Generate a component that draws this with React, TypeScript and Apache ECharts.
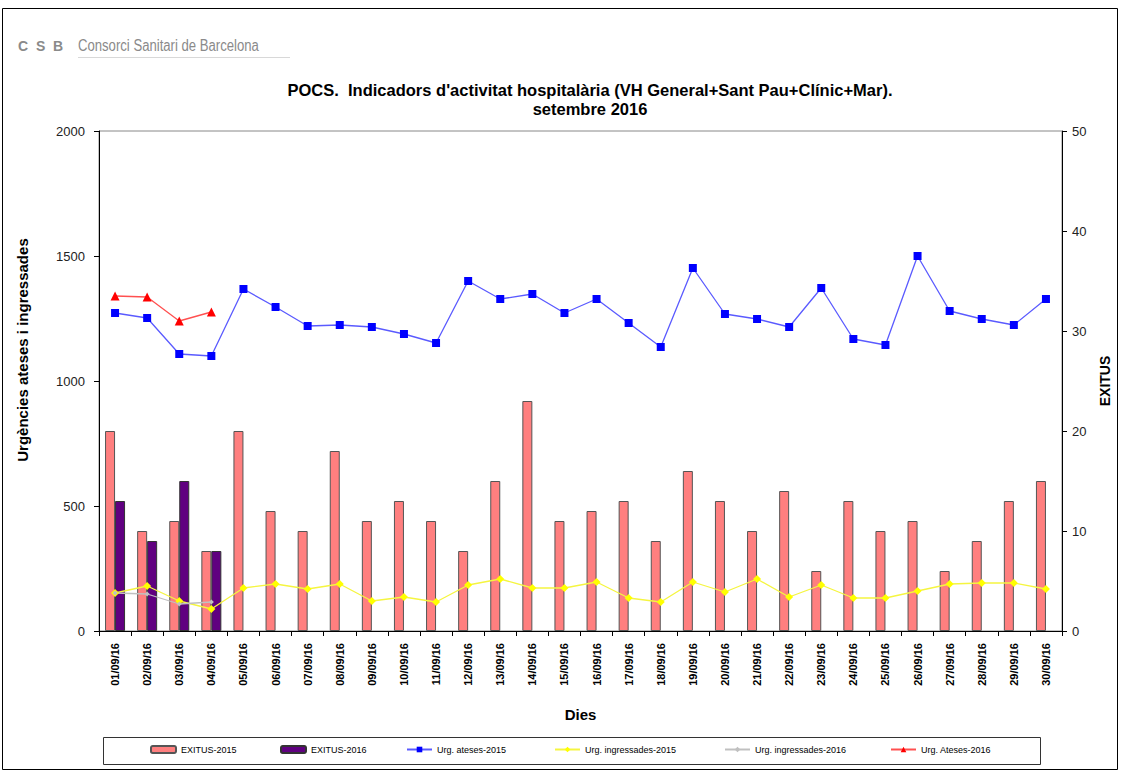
import React, { useEffect, useRef } from "react";
import * as echarts from "echarts";

const days = [
  "01/09/16", "02/09/16", "03/09/16", "04/09/16", "05/09/16", "06/09/16",
  "07/09/16", "08/09/16", "09/09/16", "10/09/16", "11/09/16", "12/09/16",
  "13/09/16", "14/09/16", "15/09/16", "16/09/16", "17/09/16", "18/09/16",
  "19/09/16", "20/09/16", "21/09/16", "22/09/16", "23/09/16", "24/09/16",
  "25/09/16", "26/09/16", "27/09/16", "28/09/16", "29/09/16", "30/09/16",
];

const exitus2015 = [20, 10, 11, 8, 20, 12, 10, 18, 11, 13, 11, 8, 15, 23, 11, 12, 13, 9, 16, 13, 10, 14, 6, 13, 10, 11, 6, 9, 13, 15];
const exitus2016 = [13, 9, 15, 8];

const ateses2015 = [1272, 1252, 1108, 1100, 1368, 1296, 1220, 1224, 1216, 1188, 1152, 1400, 1328, 1348, 1272, 1328, 1232, 1136, 1452, 1268, 1248, 1216, 1372, 1168, 1144, 1500, 1280, 1248, 1224, 1328];
const ingressades2015 = [152, 180, 120, 88, 172, 188, 168, 188, 120, 136, 116, 184, 208, 172, 172, 196, 132, 116, 196, 156, 208, 136, 184, 132, 132, 160, 188, 192, 192, 168];
const ingressades2016 = [152, 148, 108, 116];
const ateses2016 = [1340, 1336, 1240, 1276];

const leftTicks = { min: 0, max: 2000, interval: 500 };
const rightTicks = { min: 0, max: 50, interval: 10 };

const FONT = "'Liberation Sans', Arial, sans-serif";

export default function App() {
  const ref = useRef<HTMLDivElement>(null);

  useEffect(() => {
    if (!ref.current) return;
    const chart = echarts.init(ref.current, null, { renderer: "svg" });

    const legendItem = (name: string, left: number) => ({
      data: [name],
      left,
      top: 745,
      itemWidth: 25,
      itemHeight: 7,
      textStyle: { fontFamily: FONT, fontSize: 9, color: "#000" },
      padding: 0,
    });

    chart.setOption({
      animation: false,
      backgroundColor: "#fff",
      textStyle: { fontFamily: FONT },
      grid: {
        left: 99,
        right: 60,
        top: 131,
        bottom: 141,
        show: true,
        borderColor: "#888",
        borderWidth: 1,
      },
      legend: [
        legendItem("EXITUS-2015", 150),
        legendItem("EXITUS-2016", 280),
        legendItem("Urg. ateses-2015", 406),
        legendItem("Urg. ingressades-2015", 554),
        legendItem("Urg. ingressades-2016", 724),
        legendItem("Urg. Ateses-2016", 890),
      ],
      xAxis: {
        type: "category",
        data: days,
        boundaryGap: true,
        name: "Dies",
        nameLocation: "middle",
        nameGap: 76,
        nameTextStyle: { fontFamily: FONT, fontSize: 15, fontWeight: "bold", color: "#000" },
        axisLine: { lineStyle: { color: "#000", width: 1 } },
        axisTick: { show: true, alignWithLabel: false, length: 5, lineStyle: { color: "#000" } },
        axisLabel: {
          interval: 0,
          rotate: 90,
          margin: 12,
          fontFamily: FONT,
          fontSize: 11,
          fontWeight: "bold",
          color: "#000",
        },
        splitLine: { show: false },
      },
      yAxis: [
        {
          type: "value",
          ...leftTicks,
          position: "left",
          axisLine: { show: true, lineStyle: { color: "#000", width: 1 } },
          axisTick: { show: true, length: 5, lineStyle: { color: "#000" } },
          axisLabel: {
            fontFamily: FONT,
            fontSize: 13,
            color: "#222",
            margin: 14,
            formatter: (v: number) => String(v),
          },
          splitLine: { show: false },
        },
        {
          type: "value",
          ...rightTicks,
          position: "right",
          name: "EXITUS",
          nameLocation: "middle",
          nameGap: 36,
          nameTextStyle: { fontFamily: FONT, fontSize: 14, fontWeight: "bold", color: "#000" },
          axisLine: { show: true, lineStyle: { color: "#000", width: 1 } },
          axisTick: { show: true, length: 5, lineStyle: { color: "#000" } },
          axisLabel: { fontFamily: FONT, fontSize: 13, color: "#222", margin: 10 },
          splitLine: { show: false },
        },
      ],
      series: [
        {
          name: "EXITUS-2015",
          type: "bar",
          yAxisIndex: 1,
          data: exitus2015,
          barWidth: 10,
          barGap: "0%",
          itemStyle: { color: "#FF7F7F", borderColor: "#555", borderWidth: 1 },
        },
        {
          name: "EXITUS-2016",
          type: "bar",
          yAxisIndex: 1,
          data: exitus2016,
          barWidth: 10,
          barGap: "0%",
          itemStyle: { color: "#600080", borderColor: "#333", borderWidth: 1 },
        },
        {
          name: "Urg. ateses-2015",
          type: "line",
          yAxisIndex: 0,
          data: ateses2015,
          symbol: "rect",
          symbolSize: 8,
          lineStyle: { color: "#5a5aff", width: 1.3 },
          itemStyle: { color: "#0000FF" },
        },
        {
          name: "Urg. ingressades-2015",
          type: "line",
          yAxisIndex: 0,
          data: ingressades2015,
          symbol: "diamond",
          symbolSize: 8,
          lineStyle: { color: "#F5F540", width: 1.3 },
          itemStyle: { color: "#FFFF00" },
        },
        {
          name: "Urg. ingressades-2016",
          type: "line",
          yAxisIndex: 0,
          data: ingressades2016,
          symbol: "diamond",
          symbolSize: 5,
          lineStyle: { color: "#C0C0C0", width: 1.3 },
          itemStyle: { color: "#C0C0C0" },
        },
        {
          name: "Urg. Ateses-2016",
          type: "line",
          yAxisIndex: 0,
          data: ateses2016,
          symbol: "triangle",
          symbolSize: 9,
          lineStyle: { color: "#ff5050", width: 1.3 },
          itemStyle: { color: "#FF0000" },
        },
      ],
      graphic: [
        {
          type: "rect",
          z: -10,
          shape: { x: 2.5, y: 8.5, width: 1115, height: 761 },
          style: { fill: "none", stroke: "#000", lineWidth: 1 },
        },
        {
          type: "rect",
          shape: { x: 103.5, y: 737.5, width: 937, height: 27 },
          style: { fill: "none", stroke: "#333", lineWidth: 1 },
        },
        {
          type: "text",
          x: 18,
          y: 46,
          style: {
            text: "C  S  B",
            font: `bold 14px ${FONT}`,
            fill: "#8a8a8a",
            verticalAlign: "middle",
          },
        },
        {
          type: "text",
          x: 78,
          y: 46,
          scaleX: 0.82,
          style: {
            text: "Consorci Sanitari de Barcelona",
            font: `16px ${FONT}`,
            fill: "#8a8a8a",
            verticalAlign: "middle",
          },
        },
        {
          type: "line",
          shape: { x1: 78, y1: 57.5, x2: 290, y2: 57.5 },
          style: { stroke: "#d8d8d8", lineWidth: 1 },
        },
        {
          type: "text",
          x: 590,
          y: 90,
          style: {
            text: "POCS.  Indicadors d'activitat hospitalària (VH General+Sant Pau+Clínic+Mar).",
            font: `bold 16.5px ${FONT}`,
            fill: "#000",
            align: "center",
            verticalAlign: "middle",
          },
        },
        {
          type: "text",
          x: 590,
          y: 109,
          style: {
            text: "setembre 2016",
            font: `bold 16.5px ${FONT}`,
            fill: "#000",
            align: "center",
            verticalAlign: "middle",
          },
        },
        {
          type: "text",
          x: 22,
          y: 350,
          rotation: Math.PI / 2,
          style: {
            text: "Urgències ateses i ingressades",
            font: `bold 15px ${FONT}`,
            fill: "#000",
            align: "center",
            verticalAlign: "middle",
          },
        },
      ],
    });

    return () => chart.dispose();
  }, []);

  return (
    <div
      ref={ref}
      style={{ position: "absolute", left: 0, top: 0, width: 1122, height: 772 }}
    />
  );
}
